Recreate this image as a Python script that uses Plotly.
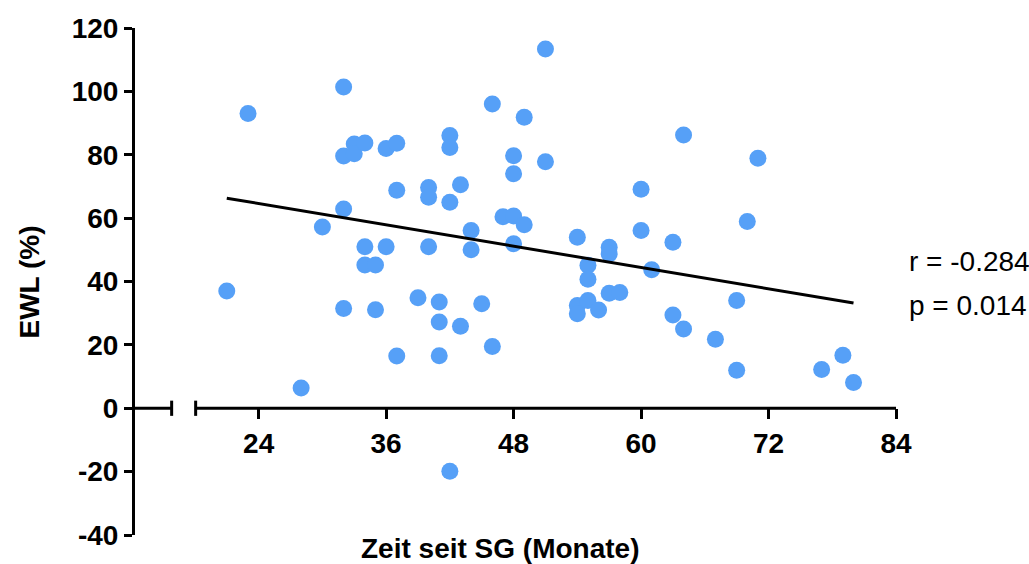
import plotly.graph_objects as go

# Time since surgery (months) and excess weight loss (%) per patient
months = [21, 23, 28, 30, 32, 32, 32, 32, 33, 33, 34, 34, 34, 35, 35, 36, 36, 37, 37, 37,
          39, 40, 40, 40, 41, 41, 41, 42, 42, 42, 42, 43, 43, 44, 44, 45, 46, 46, 47, 48,
          48, 48, 48, 49, 49, 51, 51, 54, 54, 54, 55, 55, 55, 56, 57, 57, 57, 58, 60, 60,
          61, 63, 63, 64, 64, 67, 69, 69, 70, 71, 77, 79, 80]
ewl = [37.0, 93.0, 6.4, 57.2, 101.4, 79.6, 62.9, 31.5, 83.4, 80.3, 83.7, 51.0, 45.2, 45.2, 31.1,
       82.0, 51.0, 83.6, 68.8, 16.5, 34.9, 69.7, 66.6, 51.0, 33.5, 27.2, 16.6, 86.1, 82.3, 65.0,
       -19.9, 70.5, 25.9, 56.1, 50.0, 33.0, 96.0, 19.5, 60.4, 79.7, 74.0, 60.7, 51.9, 91.8, 57.9,
       113.4, 77.8, 54.0, 32.4, 29.8, 45.1, 40.7, 34.0, 31.0, 50.8, 48.7, 36.3, 36.5, 69.1, 56.1,
       43.7, 52.4, 29.4, 86.2, 25.0, 21.8, 34.0, 12.0, 58.9, 78.9, 12.2, 16.7, 8.1]

# Linear regression line endpoints
fit_x = [21, 80]
fit_y = [66.3, 33.2]

x_ticks = [24, 36, 48, 60, 72, 84]
y_ticks = [-40, -20, 0, 20, 40, 60, 80, 100, 120]
y_tick_labels = ["-40", "-20", "0", "20", "40", "60", "80", "100", "120"]

stats_text = ["r = -0.284", "p = 0.014"]
stats_y = [46.2, 32.3]

x_min, x_max = 12.36, 84
y_min, y_max = -40, 120
break_lo, break_hi = 15.81, 18.07
cap = 2.4

FONT = "Liberation Sans, Arial, Helvetica, sans-serif"

fig = go.Figure()
fig.add_trace(go.Scatter(
    x=months, y=ewl, mode="markers",
    marker=dict(size=17, color="#56a0f7", line=dict(width=0)),
    showlegend=False, hoverinfo="x+y",
))
fig.add_trace(go.Scatter(
    x=fit_x, y=fit_y, mode="lines",
    line=dict(color="black", width=3),
    showlegend=False, hoverinfo="skip",
))

# Broken x axis drawn along y = 0
axis_line = dict(color="black", width=3)
shapes = [
    dict(type="line", xref="x", yref="y", x0=x_min, x1=break_lo, y0=0, y1=0, line=axis_line),
    dict(type="line", xref="x", yref="y", x0=break_lo, x1=break_lo, y0=-cap, y1=cap, line=axis_line),
    dict(type="line", xref="x", yref="y", x0=break_hi, x1=x_max, y0=0, y1=0, line=axis_line),
    dict(type="line", xref="x", yref="y", x0=break_hi, x1=break_hi, y0=-cap, y1=cap, line=axis_line),
]

annotations = [
    dict(text=t, x=1.0142, xref="paper", y=yv, yref="y", xanchor="left", yanchor="middle",
         showarrow=False, font=dict(family=FONT, size=28, color="black"))
    for t, yv in zip(stats_text, stats_y)
]
annotations.append(dict(
    text="EWL (%)", textangle=-90, x=-0.138, xref="paper", y=0.5, yref="paper",
    xanchor="center", yanchor="middle", showarrow=False,
    font=dict(family=FONT, size=28, color="black", weight="bold"),
))
annotations.append(dict(
    text="Zeit seit SG (Monate)", x=0.48, xref="paper", y=-0.0276, yref="paper",
    xanchor="center", yanchor="middle", showarrow=False,
    font=dict(family=FONT, size=28, color="black", weight="bold"),
))

fig.update_layout(
    width=1029, height=564,
    margin=dict(l=135, r=133, t=28, b=29),
    paper_bgcolor="white", plot_bgcolor="white",
    shapes=shapes, annotations=annotations,
    xaxis=dict(
        range=[x_min, x_max], tickvals=x_ticks, showline=False, showgrid=False, zeroline=False,
        ticks="outside", ticklen=10, tickwidth=3, tickcolor="black",
        anchor="free", position=(0 - y_min) / (y_max - y_min),
        tickfont=dict(family=FONT, size=28, color="black", weight="bold"),
    ),
    yaxis=dict(
        range=[y_min, y_max], tickvals=y_ticks, ticktext=y_tick_labels,
        showline=True, linewidth=3, linecolor="black",
        showgrid=False, zeroline=False,
        ticks="outside", ticklen=8, tickwidth=3, tickcolor="black",
        tickfont=dict(family=FONT, size=28, color="black", weight="bold"),
    ),
)

fig.write_html("out.html")
